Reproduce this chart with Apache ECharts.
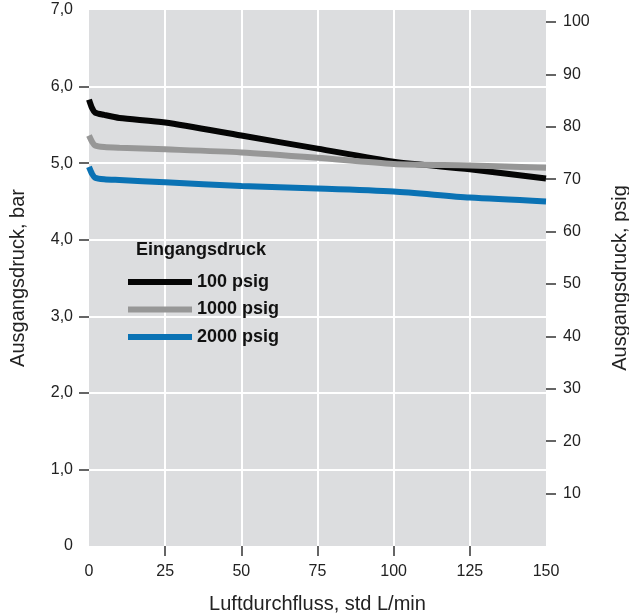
<!DOCTYPE html>
<html><head><meta charset="utf-8">
<script src="https://cdn.jsdelivr.net/npm/echarts@6/dist/echarts.min.js"></script>
<style>html,body{margin:0;padding:0;background:#fff}#c{width:629px;height:615px}</style>
</head><body><div id="c"></div>
<script>
const flow = [0, 1, 2, 5, 10, 25, 50, 75, 100, 125, 150];
const p100 = [5.83, 5.72, 5.66, 5.63, 5.59, 5.53, 5.36, 5.19, 5.02, 4.92, 4.80];
const p1000 = [5.36, 5.28, 5.23, 5.21, 5.20, 5.18, 5.14, 5.07, 4.99, 4.97, 4.94];
const p2000 = [4.95, 4.86, 4.81, 4.79, 4.78, 4.75, 4.70, 4.67, 4.63, 4.55, 4.50];
const seriesNames = ['100 psig', '1000 psig', '2000 psig'];
const xLabels = [0, 25, 50, 75, 100, 125, 150];
const xTicks = [25, 50, 75, 100, 125];
const barLabels = [0, 1, 2, 3, 4, 5, 6, 7];
const barTicks = [1, 2, 3, 4, 5, 6];
const psigLabels = [10, 20, 30, 40, 50, 60, 70, 80, 90, 100];
const PSIG_MAX = 102.3;

const FONT = "'Liberation Sans', Arial, sans-serif";
const pair = arr => flow.map((x, i) => [x, arr[i]]);
const chart = echarts.init(document.getElementById('c'));
const colors = ['#050505', '#979797', '#0a72b4'];
chart.setOption({
  animation: false,
  textStyle: { fontFamily: FONT },
  title: {
    text: 'Eingangsdruck', left: 131, top: 236,
    textStyle: { fontFamily: FONT, fontSize: 18, fontWeight: 'bold', color: '#111' }
  },
  legend: {
    orient: 'vertical', left: 123, top: 268, icon: 'rect',
    itemWidth: 64, itemHeight: 6, itemGap: 9.5,
    data: seriesNames,
    textStyle: { fontFamily: FONT, fontSize: 18, fontWeight: 'bold', color: '#111' }
  },
  grid: { left: 89, right: 83, top: 10, bottom: 69, show: true, backgroundColor: '#dcdddf', borderWidth: 0, outerBoundsMode: 'none', containLabel: false },
  xAxis: {
    type: 'value', min: 0, max: 150, interval: 25,
    name: 'Luftdurchfluss, std L/min', nameLocation: 'middle', nameGap: 48,
    nameTextStyle: { fontFamily: FONT, fontSize: 20, color: '#222' },
    axisLine: { show: false },
    axisTick: { show: true, length: 10, customValues: xTicks, lineStyle: { color: '#333', width: 1.5 } },
    axisLabel: { customValues: xLabels, margin: 18, fontSize: 16, color: '#222', fontFamily: FONT },
    splitLine: { show: true, lineStyle: { color: '#ffffff', width: 2 } }
  },
  yAxis: [{
    type: 'value', min: 0, max: 7, interval: 1, position: 'left',
    name: 'Ausgangsdruck, bar', nameLocation: 'middle', nameGap: 61, nameRotate: 90,
    nameTextStyle: { fontFamily: FONT, fontSize: 20, color: '#222' },
    axisLine: { show: false },
    axisTick: { show: true, length: 10, customValues: barTicks, lineStyle: { color: '#333', width: 1.5 } },
    axisLabel: {
      customValues: barLabels, margin: 16, fontSize: 16, color: '#222', fontFamily: FONT,
      formatter: v => v === 0 ? '0' : v.toFixed(1).replace('.', ',')
    },
    splitLine: { show: true, lineStyle: { color: '#ffffff', width: 2 } }
  }, {
    type: 'value', min: 0, max: PSIG_MAX, position: 'right',
    name: 'Ausgangsdruck, psig', nameLocation: 'middle', nameGap: 64, nameRotate: 90,
    nameTextStyle: { fontFamily: FONT, fontSize: 20, color: '#222' },
    axisLine: { show: false },
    axisTick: { show: true, length: 10, customValues: psigLabels, lineStyle: { color: '#333', width: 1.5 } },
    axisLabel: { customValues: psigLabels, margin: 17, fontSize: 16, color: '#222', fontFamily: FONT },
    splitLine: { show: false }
  }],
  series: [
    { name: seriesNames[0], type: 'line', data: pair(p100), smooth: 0.25, showSymbol: false, lineStyle: { width: 6, color: colors[0] }, itemStyle: { color: colors[0] } },
    { name: seriesNames[1], type: 'line', data: pair(p1000), smooth: 0.25, showSymbol: false, lineStyle: { width: 6, color: colors[1] }, itemStyle: { color: colors[1] } },
    { name: seriesNames[2], type: 'line', data: pair(p2000), smooth: 0.25, showSymbol: false, lineStyle: { width: 6, color: colors[2] }, itemStyle: { color: colors[2] } }
  ]
});
</script></body></html>
